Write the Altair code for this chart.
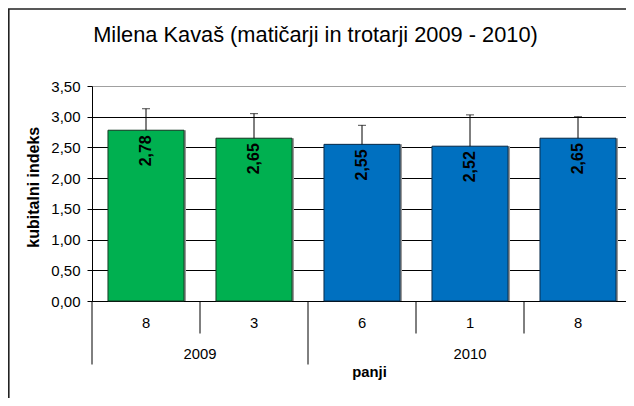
import altair as alt
import pandas as pd

title_text = "Milena Kavaš (matičarji in trotarji 2009 - 2010)"
panji = ["8", "3", "6", "1", "8"]
years = ["2009", "2009", "2010", "2010", "2010"]
values = [2.78, 2.65, 2.55, 2.52, 2.65]
errors = [0.35, 0.40, 0.31, 0.51, 0.35]
y_ticks = [0, 0.5, 1.0, 1.5, 2.0, 2.5, 3.0, 3.5]
year_order = ["2009", "2010"]
fill_colors = ["#00B050", "#0070C0"]
stroke_colors = ["#163A24", "#0A2C4A"]

FONT = "Liberation Sans"
W, H = 540, 215

n = len(panji)
df = pd.DataFrame({"idx": list(range(n)), "panji": panji, "year": years,
                   "value": values, "err": errors})

# boundaries between categories (slot units), long ones separate the year groups
bounds = []
for i in range(n):
    bounds.append({"pos": i, "long": i == 0 or years[i] != years[i - 1]})
bounds.append({"pos": n, "long": True})
bdf = pd.DataFrame(bounds)

# year group centers
ydf = (pd.DataFrame({"idx": list(range(n)), "year": years})
       .groupby("year")["idx"].agg(["min", "max"]).reset_index())
ydf["center"] = (ydf["min"] + ydf["max"] + 1) / 2

label_expr_x = "[" + ",".join("'%s'" % p for p in panji) + "][datum.value]"
comma_expr = "replace(format(datum.value, '.2f'), '.', ',')"

band_scale = alt.Scale(paddingInner=0, paddingOuter=0)
x_axis = alt.Axis(title="panji", labelExpr=label_expr_x, labelAngle=0,
                  ticks=False, tickSize=0, domainColor="#000000",
                  labelFont=FONT, labelFontSize=14.8, labelColor="#000000",
                  labelPadding=22.6, labelBaseline="middle",
                  titleFont=FONT, titleFontSize=14.8, titleFontWeight="bold",
                  titleColor="#000000", titleX=277, titleY=71.3,
                  titleBaseline="middle", titleAlign="center", grid=False)
x_main = alt.X("idx:O", scale=band_scale, axis=x_axis)
x_plain = alt.X("idx:O", scale=band_scale, axis=None)

y_axis = alt.Axis(values=y_ticks, labelExpr=comma_expr, title="kubitalni indeks",
                  tickSize=5, tickColor="#000000", domainColor="#000000",
                  grid=True,
                  gridColor={"condition": {"test": "datum.value >= 3.5", "value": "#a0a0a0"},
                             "value": "#000000"},
                  labelFont=FONT, labelFontSize=15, labelColor="#000000", labelPadding=7,
                  titleFont=FONT, titleFontSize=16, titleFontWeight="bold",
                  titleColor="#000000", titleAngle=270, titleX=-53.7, titleY=100.7,
                  titleBaseline="alphabetic", titleAlign="center")
y_scale = alt.Scale(domain=[0, 3.5], nice=False, zero=True)
y_main = alt.Y("value:Q", scale=y_scale, axis=y_axis)

base = alt.Chart(df).transform_calculate(
    top="datum.value + datum.err",
    label=comma_expr,
)

bar_w = alt.RelativeBandSize(0.704)

shadow = base.mark_bar(width=bar_w, color="#9a9a9a", xOffset=2).encode(
    x=x_plain, y=y_main)

bars = base.mark_bar(width=bar_w, strokeWidth=1).encode(
    x=x_main, y=y_main,
    fill=alt.Fill("year:N", scale=alt.Scale(domain=year_order, range=fill_colors), legend=None),
    stroke=alt.Stroke("year:N", scale=alt.Scale(domain=year_order, range=stroke_colors), legend=None),
)

err_rule = base.mark_rule(color="#000000", strokeWidth=1).encode(
    x=x_plain, y=y_main, y2="top:Q")

err_cap = base.mark_tick(color="#000000", size=8, thickness=1).encode(
    x=x_plain, y=alt.Y("top:Q", scale=y_scale, axis=y_axis))

labels = base.mark_text(angle=270, align="right", baseline="middle", dx=-5,
                        font=FONT, fontSize=16, fontWeight="bold",
                        color="#000000").encode(
    x=x_plain, y=y_main, text="label:N")

q_x = alt.X("pos:Q", scale=alt.Scale(domain=[0, n], nice=False, zero=False), axis=None)

short_rules = alt.Chart(bdf).transform_filter("!datum.long").mark_rule(
    color="#000000", strokeWidth=1).encode(
    x=q_x, y=alt.value(H), y2=alt.value(H + 32.5))

long_rules = alt.Chart(bdf).transform_filter("datum.long").mark_rule(
    color="#000000", strokeWidth=1).encode(
    x=q_x, y=alt.value(H), y2=alt.value(H + 63.5))

year_text = alt.Chart(ydf).mark_text(font=FONT, fontSize=14.8, color="#000000",
                                     baseline="middle", align="center").encode(
    x=alt.X("center:Q", scale=alt.Scale(domain=[0, n], nice=False, zero=False), axis=None),
    y=alt.value(269), text="year:N")

tdf = pd.DataFrame({"t": [title_text]})
border = alt.Chart(tdf).mark_rect(fillOpacity=0, stroke="#222222", strokeWidth=1.6).encode(
    x=alt.value(-83.2), x2=alt.value(W + 100), y=alt.value(-77), y2=alt.value(H + 200))

title_mark = alt.Chart(tdf).mark_text(font=FONT, fontSize=21.8, color="#000000",
                                      align="center", baseline="alphabetic").encode(
    x=alt.value(223.5), y=alt.value(-44.3), text="t:N")

layers = [border, title_mark, shadow, bars, err_rule, err_cap, labels,
          short_rules, long_rules, year_text]


def build(pad_right):
    return alt.layer(*layers).resolve_scale(x="independent").properties(
        width=W, height=H,
        autosize=alt.AutoSizeParams(type="none"),
        padding={"left": 84, "top": 78, "right": pad_right, "bottom": 97},
    ).configure_view(stroke="#a0a0a0", strokeWidth=1).configure(font=FONT)


try:
    chart = build(-6)
    chart.save("out.html", embed_options={"renderer": "svg", "actions": False})
except Exception:
    chart = build(0)
    chart.save("out.html", embed_options={"renderer": "svg", "actions": False})
